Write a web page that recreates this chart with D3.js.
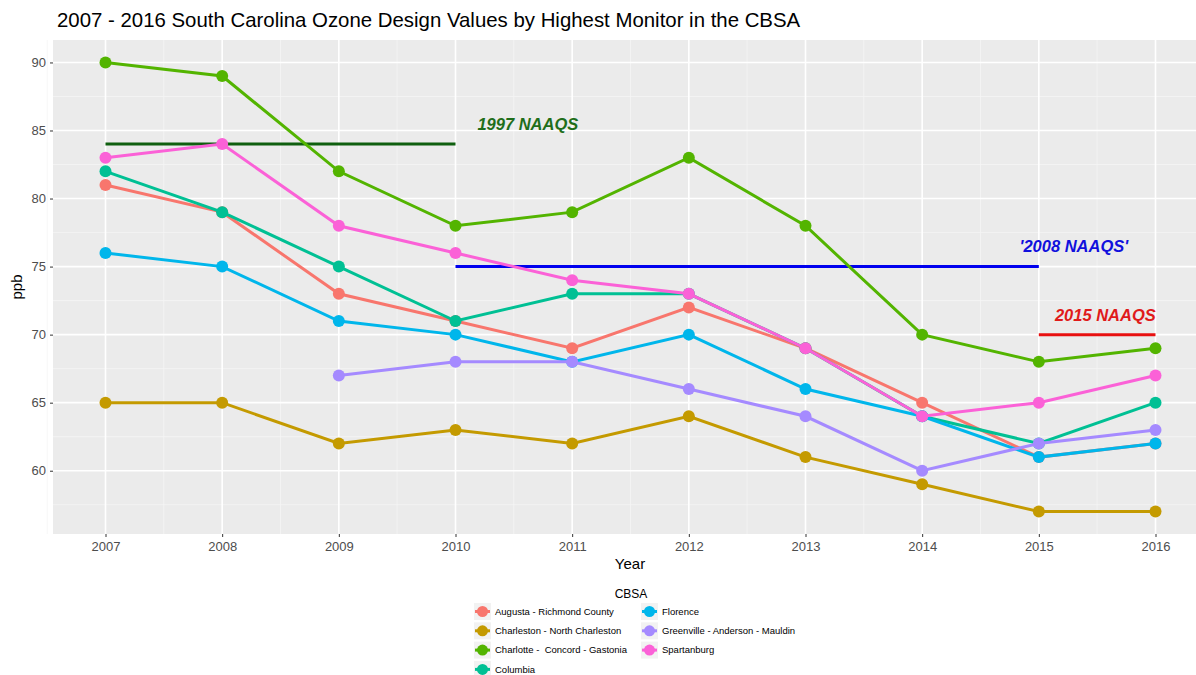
<!DOCTYPE html>
<html>
<head>
<meta charset="utf-8">
<script src="https://cdn.jsdelivr.net/npm/d3@7"></script>
<style>
  body { margin: 0; background: #fff; }
  text { font-family: "Liberation Sans", Arial, sans-serif; }
</style>
</head>
<body>
<svg id="chart" width="1196" height="675"></svg>
<script>
// data
var years = [2007, 2008, 2009, 2010, 2011, 2012, 2013, 2014, 2015, 2016];
var cbsaNames = ["Augusta - Richmond County", "Charleston - North Charleston", "Charlotte -  Concord - Gastonia",
                 "Columbia", "Florence", "Greenville - Anderson - Mauldin", "Spartanburg"];
var augusta     = [81, 79, 73, 71, 69, 72, 69, 65, 61, 62];
var charleston  = [65, 65, 62, 63, 62, 64, 61, 59, 57, 57];
var charlotte   = [90, 89, 82, 78, 79, 83, 78, 70, 68, 69];
var columbia    = [82, 79, 75, 71, 73, 73, 69, 64, 62, 65];
var florence    = [76, 75, 71, 70, 68, 70, 66, 64, 61, 62];
var greenville  = [null, null, 67, 68, 68, 66, 64, 60, 62, 63];
var spartanburg = [83, 84, 78, 76, 74, 73, 69, 64, 65, 67];
var yTicks = [60, 65, 70, 75, 80, 85, 90];

// standards: label, value, from, to, label position
var naaqs = [
  {label: "1997 NAAQS",   value: 84, from: 2007, to: 2010, tx: 2010.62, ty: 85.45, colour: "#0f5f0f", text: "#1f6e1a"},
  {label: "'2008 NAAQS'", value: 75, from: 2010, to: 2015, tx: 2015.3,  ty: 76.5,  colour: "#0000ee", text: "#1010dd"},
  {label: "2015 NAAQS",   value: 70, from: 2015, to: 2016, tx: 2015.57, ty: 71.45, colour: "#e81010", text: "#e01a1a"}
];

var colours = ["#F8766D", "#C49A00", "#53B400", "#00C094", "#00B6EB", "#A58AFF", "#FB61D7"];
var seriesValues = [augusta, charleston, charlotte, columbia, florence, greenville, spartanburg];

var series = cbsaNames.map(function(n, i) {
  return {name: n, colour: colours[i],
          values: years.map(function(yr, j) { return {year: yr, v: seriesValues[i][j]}; })
                       .filter(function(d) { return d.v !== null; })};
});

var svg = d3.select("#chart");
var pLeft = 53, pRight = 1208, pTop = 40, pBottom = 534;

var x = d3.scaleLinear().domain([2006.55, 2016.45]).range([pLeft, pRight]);
var y = d3.scaleLinear().domain([55.35, 91.65]).range([pBottom, pTop]);

//
// panel
//
svg.append("rect")
  .attr("x", pLeft).attr("y", pTop)
  .attr("width", pRight - pLeft).attr("height", pBottom - pTop)
  .attr("fill", "#ebebeb");

var minorX = d3.range(2006.5, 2017, 1);
var minorY = d3.range(57.5, 91, 5);

svg.append("g").selectAll("line").data(minorX).enter().append("line")
  .attr("x1", d => x(d)).attr("x2", d => x(d))
  .attr("y1", pTop).attr("y2", pBottom)
  .attr("stroke", "#f5f5f5").attr("stroke-width", 0.8);
svg.append("g").selectAll("line").data(minorY).enter().append("line")
  .attr("x1", pLeft).attr("x2", pRight)
  .attr("y1", d => y(d)).attr("y2", d => y(d))
  .attr("stroke", "#f5f5f5").attr("stroke-width", 0.8);
svg.append("g").selectAll("line").data(years).enter().append("line")
  .attr("x1", d => x(d)).attr("x2", d => x(d))
  .attr("y1", pTop).attr("y2", pBottom)
  .attr("stroke", "#fff").attr("stroke-width", 1.6);
svg.append("g").selectAll("line").data(yTicks).enter().append("line")
  .attr("x1", pLeft).attr("x2", pRight)
  .attr("y1", d => y(d)).attr("y2", d => y(d))
  .attr("stroke", "#fff").attr("stroke-width", 1.6);

//
// axes
//
var xAxis = d3.axisBottom(x).tickValues(years).tickFormat(d3.format("d"))
  .tickSize(3).tickPadding(5);
var yAxis = d3.axisLeft(y).tickValues(yTicks).tickSize(3).tickPadding(4);

var gX = svg.append("g").attr("transform", "translate(0," + pBottom + ")").call(xAxis);
var gY = svg.append("g").attr("transform", "translate(" + pLeft + ",0)").call(yAxis);
[gX, gY].forEach(function(g) {
  g.select(".domain").remove();
  g.selectAll(".tick line").attr("stroke", "#333");
  g.selectAll(".tick text").style("fill", "#4d4d4d").style("font-size", "13px")
    .style("font-family", "'Liberation Sans', Arial, sans-serif");
});

svg.append("text")
  .attr("x", 630).attr("y", 569)
  .style("text-anchor", "middle").style("font-size", "15px").style("fill", "#000")
  .text("Year");

svg.append("text")
  .attr("transform", "rotate(-90)")
  .attr("x", -287).attr("y", 22)
  .style("text-anchor", "middle").style("font-size", "15px").style("fill", "#000")
  .text("ppb");

svg.append("text")
  .attr("x", 57).attr("y", 27)
  .style("font-size", "20.4px").style("fill", "#000")
  .text("2007 - 2016 South Carolina Ozone Design Values by Highest Monitor in the CBSA");

//
// standards
//
svg.append("g").selectAll("line").data(naaqs).enter().append("line")
  .attr("x1", d => x(d.from)).attr("x2", d => x(d.to))
  .attr("y1", d => y(d.value)).attr("y2", d => y(d.value))
  .attr("stroke", d => d.colour).attr("stroke-width", 3);

svg.append("g").selectAll("text").data(naaqs).enter().append("text")
  .attr("x", d => x(d.tx)).attr("y", d => y(d.ty))
  .attr("dy", "0.36em")
  .style("text-anchor", "middle").style("font-size", "16.5px")
  .style("font-weight", "bold").style("font-style", "italic")
  .style("fill", d => d.text)
  .text(d => d.label);

//
// series
//
var line = d3.line().x(d => x(d.year)).y(d => y(d.v));

var g = svg.append("g").selectAll("g").data(series).enter().append("g");
g.append("path")
  .attr("d", d => line(d.values))
  .attr("fill", "none").attr("stroke", d => d.colour).attr("stroke-width", 3);
g.selectAll("circle").data(d => d.values.map(v => ({year: v.year, v: v.v, colour: d.colour})))
  .enter().append("circle")
  .attr("cx", d => x(d.year)).attr("cy", d => y(d.v))
  .attr("r", 6).attr("fill", d => d.colour);

//
// legend
//
svg.append("text")
  .attr("x", 631).attr("y", 598)
  .style("text-anchor", "middle").style("font-size", "12px").style("fill", "#000")
  .text("CBSA");

var rows = 4;
var leg = svg.append("g").selectAll("g").data(series).enter().append("g")
  .attr("transform", function(d, i) {
    var col = Math.floor(i / rows), row = i % rows;
    return "translate(" + (474 + col * 167) + "," + (603 + row * 19.3) + ")";
  });
leg.append("rect")
  .attr("width", 17).attr("height", 17).attr("fill", "#f2f2f2");
leg.append("line")
  .attr("x1", 1).attr("x2", 16).attr("y1", 8.5).attr("y2", 8.5)
  .attr("stroke", d => d.colour).attr("stroke-width", 3);
leg.append("circle")
  .attr("cx", 8.5).attr("cy", 8.5).attr("r", 5.5).attr("fill", d => d.colour);
leg.append("text")
  .attr("x", 21).attr("y", 8.5).attr("dy", "0.35em")
  .style("font-size", "9.5px").style("fill", "#000")
  .style("white-space", "pre")
  .text(d => d.name);
</script>
</body>
</html>
